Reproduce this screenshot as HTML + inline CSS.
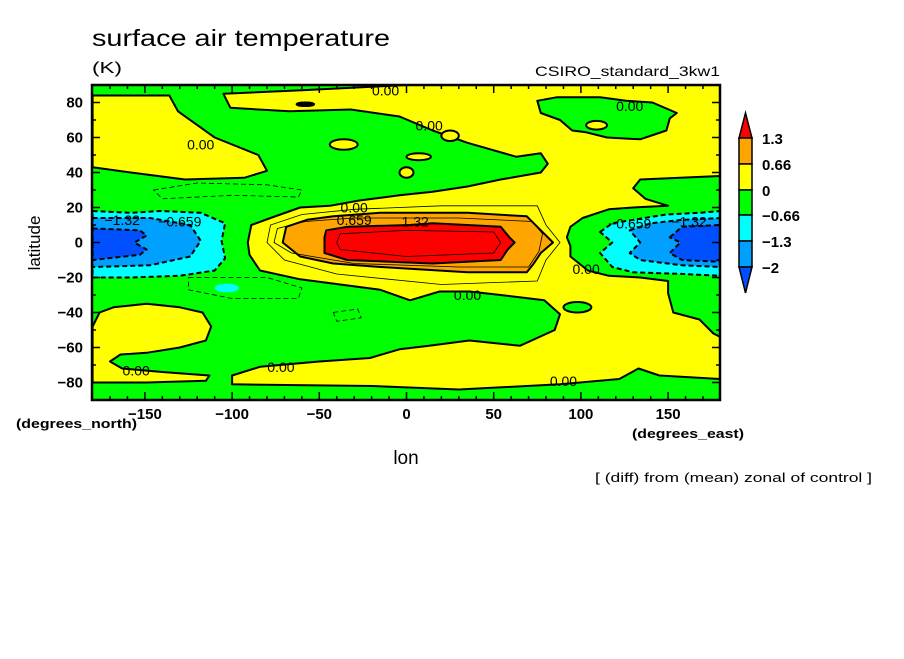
<!DOCTYPE html>
<html><head><meta charset="utf-8"><style>
body{margin:0;background:#fff;}
svg text{font-family:"Liberation Sans",sans-serif;}
</style></head><body>
<svg id="c" width="904" height="654" viewBox="0 0 904 654" xmlns="http://www.w3.org/2000/svg">
<text x="92" y="46" font-size="23" textLength="298" lengthAdjust="spacingAndGlyphs">surface air temperature</text>
<text x="92" y="73" font-size="16" textLength="30" lengthAdjust="spacingAndGlyphs">(K)</text>
<text x="535" y="76" font-size="14" textLength="185" lengthAdjust="spacingAndGlyphs">CSIRO_standard_3kw1</text>
<defs><clipPath id="pc"><rect x="92" y="85" width="628" height="315"/></clipPath></defs>
<g id="field" clip-path="url(#pc)"></g>
<g id="axes"></g>
<text x="40" y="243" font-size="17" text-anchor="middle" transform="rotate(-90 40 243)">latitude</text>
<text x="406" y="464" font-size="19" text-anchor="middle">lon</text>
<text x="16" y="428" font-size="13" font-weight="bold" textLength="121" lengthAdjust="spacingAndGlyphs">(degrees_north)</text>
<text x="632" y="438" font-size="13" font-weight="bold" textLength="112" lengthAdjust="spacingAndGlyphs">(degrees_east)</text>
<text x="595" y="482" font-size="13" textLength="277" lengthAdjust="spacingAndGlyphs">[ (diff) from (mean) zonal of control ]</text>
<g id="cbar"></g>
</svg>
<script>
const lonTicks=[-150,-100,-50,0,50,100,150];
const latTicks=[-80,-60,-40,-20,0,20,40,60,80];
const cbarLabels=["1.3","0.66","0","\u22120.66","\u22121.3","\u22122"];
const cbarColors=["#ff0000","#ffa500","#ffff00","#00ff00","#00ffff","#00a0ff","#0050ff"];
// contour regions: [lon,lat] vertices
const yellowNW=[[-180,84],[-136,84],[-131,75],[-110,60],[-85,50],[-80,41],[-93,37],[-127,36],[-158,40],[-180,43]];
const yellowMain=[[-105,85],[-60,87],[0,90],[180,90],[180,38],[157,37],[134,36],[130,31],[137,25],[150,21],[130,20],[116,19],[101,14],[94,9],[92,3],[94,-2],[94,-8],[104,-16],[116,-19],[134,-20],[150,-22],[150,-29],[153,-40],[168,-44],[176,-52],[180,-54],[180,-78],[145,-76],[133,-72],[122,-78],[88,-81],[30,-84],[-20,-82],[-100,-81],[-100,-76],[-84,-71],[-50,-68],[-21,-66],[-4,-61],[13,-59],[36,-56],[65,-59],[85,-50],[88,-41],[79,-33],[54,-30],[36,-28],[19,-28],[2,-33],[-15,-27],[-38,-24],[-61,-21],[-84,-16],[-90,-7],[-91,0],[-89,10],[-78,14],[-61,20],[-44,21],[-27,24],[-4,27],[15,29],[35,32],[54,36],[77,40],[81,45],[77,51],[63,49],[35,57],[15,64],[-4,72],[-32,76],[-67,75],[-101,77]];
const yellowSW=[[-180,-48],[-176,-40],[-168,-37],[-149,-35],[-130,-37],[-117,-40],[-112,-48],[-115,-56],[-130,-60],[-149,-63],[-164,-64],[-170,-68],[-163,-72],[-140,-74],[-113,-76],[-115,-79],[-149,-80],[-180,-80]];
const greenNE=[[75,81],[86,83],[111,83],[126,81],[141,80],[155,74],[151,71],[149,64],[134,59],[115,60],[103,63],[95,64],[88,70],[77,74]];
const orangeCore=[[-71,0],[-69,9],[-57,13],[-42,15],[-15,17],[35,17],[69,15],[75,9],[84,0],[77,-6],[73,-12],[69,-17],[35,-17],[-15,-14],[-42,-12],[-61,-8]];
const redCore=[[-47,3],[-46,7],[-34,9],[2,10],[15,11],[54,9],[59,3],[62,0],[58,-4],[54,-10],[15,-12],[-34,-10],[-47,-6]];
const cyanW=[[-180,18],[-158,17],[-141,18],[-118,17],[-104,11],[-106,1],[-104,-9],[-110,-16],[-130,-19],[-158,-20],[-180,-20]];
const lblueW=[[-180,14],[-147,14],[-124,10],[-118,1],[-124,-8],[-147,-13],[-180,-14]];
const blueW=[[-180,8],[-153,7],[-149,4],[-156,0],[-149,-4],[-153,-7],[-180,-10]];
const cyanE=[[111,6],[118,11],[130,13],[149,16],[168,17],[180,18],[180,-19],[159,-18],[130,-17],[118,-14],[111,-6],[118,0]];
const lblueE=[[128,7],[140,11],[158,13],[180,14],[180,-14],[158,-13],[134,-10],[128,-6],[134,0]];
const blueE=[[151,3],[158,9],[180,10],[180,-11],[158,-10],[151,-6],[157,0]];
const yellowSpots=[[-36,56,8,3],[0,40,4,3],[7,49,7,2],[25,61,5,3],[109,67,6,2.5]];
const greenSpots=[[98,-37,8,3],[-58,79,5,1]];
const cyanSpots=[[-103,-26,7,2.5]];
const thinContours=[
 [[-80,0],[-78,10],[-60,16],[-30,19],[20,21],[75,21],[80,10],[88,0],[80,-10],[75,-22],[20,-24],[-40,-18],[-70,-10]],
 [[-76,0],[-74,8],[-58,12],[-30,14],[30,14],[72,12],[78,5],[76,-5],[70,-14],[30,-14],[-30,-12],[-66,-6]],
 [[-40,0],[-38,5],[0,7],[50,6],[54,0],[50,-6],[0,-8],[-38,-4]]];
const dashedContours=[
 [[-145,30],[-120,34],[-80,33],[-60,30],[-62,26],[-100,27],[-140,25]],
 [[-125,-20],[-80,-20],[-60,-26],[-62,-32],[-100,-32],[-125,-27]],
 [[-42,-40],[-28,-38],[-26,-43],[-40,-45]]];
const labels=[["0.00",-12,87],["0.00",-118,56],["0.00",13,67],["0.00",128,78],["\u22121.32",-163,13],["\u22120.659",-130,12],["0.00",-30,20],["0.659",-30,13],["1.32",5,12],["\u22120.659",128,11],["\u22121.32",162,12],["0.00",103,-15],["0.00",35,-30],["0.00",-72,-71],["0.00",-155,-73],["0.00",90,-79]];

const X=lon=>406.5+lon*1.744, Y=lat=>242.5-lat*1.75;
const NS="http://www.w3.org/2000/svg";
const field=document.getElementById('field'), axes=document.getElementById('axes'), cbar=document.getElementById('cbar');
function mk(tag,attrs,parent){const e=document.createElementNS(NS,tag);for(const k in attrs)e.setAttribute(k,attrs[k]);parent.appendChild(e);return e;}
function pts(a){return a.map(p=>X(p[0]).toFixed(1)+','+Y(p[1]).toFixed(1)).join(' ');}
let r=mk('rect',{x:92,y:85,width:628,height:315,fill:'#00ff00'},field);


function poly(a,fill,sw,dash,name){const p=mk('polygon',{points:pts(a),fill:fill,stroke:'#000','stroke-width':sw,'stroke-linejoin':'round'},field);if(dash)p.setAttribute('stroke-dasharray',dash);

}
poly(yellowNW,'#ffff00',2,null,'region-positive');
poly(yellowMain,'#ffff00',2,null,'region-positive');
poly(yellowSW,'#ffff00',2,null,'region-positive');
poly(greenNE,'#00ff00',2,null,'region-negative');
yellowSpots.forEach(s=>{const e=mk('ellipse',{cx:X(s[0]),cy:Y(s[1]),rx:s[2]*1.744,ry:s[3]*1.75,fill:'#ffff00',stroke:'#000','stroke-width':2},field);

});
greenSpots.forEach(s=>{const e=mk('ellipse',{cx:X(s[0]),cy:Y(s[1]),rx:s[2]*1.744,ry:s[3]*1.75,fill:s[3]<2?'#000':'#00ff00',stroke:'#000','stroke-width':2},field);

});
cyanSpots.forEach(s=>{const e=mk('ellipse',{cx:X(s[0]),cy:Y(s[1]),rx:s[2]*1.744,ry:s[3]*1.75,fill:'#00ffff'},field);

});
poly(orangeCore,'#ffa500',2,null,'region-warm');
poly(redCore,'#ff0000',2,null,'region-hot');
poly(cyanW,'#00ffff',2,'5,3','region-cold-west');
poly(lblueW,'#00a0ff',2,'5,3','region-colder-west');
poly(blueW,'#0050ff',2,'5,3','region-coldest-west');
poly(cyanE,'#00ffff',2,'5,3','region-cold-east');
poly(lblueE,'#00a0ff',2,'5,3','region-colder-east');
poly(blueE,'#0050ff',2,'5,3','region-coldest-east');
thinContours.forEach(c=>{const p=mk('polygon',{points:pts(c),fill:'none',stroke:'#000','stroke-width':0.8},field);

});
dashedContours.forEach(c=>{const p=mk('polygon',{points:pts(c),fill:'none',stroke:'#000','stroke-width':0.8,'stroke-dasharray':'5,3'},field);

});
labels.forEach(l=>{const t=mk('text',{x:X(l[1]),y:Y(l[2])+5,'font-size':14,'text-anchor':'middle'},field);t.textContent=l[0];

});
// frame
let f=mk('rect',{x:92,y:85,width:628,height:315,fill:'none',stroke:'#000','stroke-width':2.5},axes);


for(let lon=-170;lon<=170;lon+=10){const L=lon%50===0?8:4;
mk('line',{x1:X(lon),x2:X(lon),y1:400,y2:400-L,stroke:'#000','stroke-width':1.5},axes);
mk('line',{x1:X(lon),x2:X(lon),y1:85,y2:85+L,stroke:'#000','stroke-width':1.5},axes);}
for(let lat=-80;lat<=80;lat+=10){const L=lat%20===0?8:4;
mk('line',{x1:92,x2:92+L,y1:Y(lat),y2:Y(lat),stroke:'#000','stroke-width':1.5},axes);
mk('line',{x1:720,x2:720-L,y1:Y(lat),y2:Y(lat),stroke:'#000','stroke-width':1.5},axes);}
lonTicks.forEach(v=>{const t=mk('text',{x:X(v),y:419,'font-size':15,'font-weight':'bold','text-anchor':'middle'},axes);t.textContent=(v<0?'\u2212':'')+Math.abs(v);

});
latTicks.forEach(v=>{const t=mk('text',{x:83,y:Y(v)+5,'font-size':15,'font-weight':'bold','text-anchor':'end'},axes);t.textContent=(v<0?'\u2212':'')+Math.abs(v);

});
// colorbar
const cx0=739,cx1=752,tops=[138,164,190,215,241,267];
let tri=mk('polygon',{points:`${cx0},138 ${(cx0+cx1)/2},113 ${cx1},138`,fill:cbarColors[0],stroke:'#000','stroke-width':1.5},cbar);


for(let i=0;i<5;i++){const b=mk('rect',{x:cx0,y:tops[i],width:cx1-cx0,height:tops[i+1]-tops[i],fill:cbarColors[i+1],stroke:'#000','stroke-width':1.5},cbar);

}
let tri2=mk('polygon',{points:`${cx0},267 ${(cx0+cx1)/2},293 ${cx1},267`,fill:cbarColors[6],stroke:'#000','stroke-width':1.5},cbar);


cbarLabels.forEach((s,i)=>{const t=mk('text',{x:762,y:tops[i]+6,'font-size':15,'font-weight':'bold'},cbar);t.textContent=s;

});
</script>
</body></html>
